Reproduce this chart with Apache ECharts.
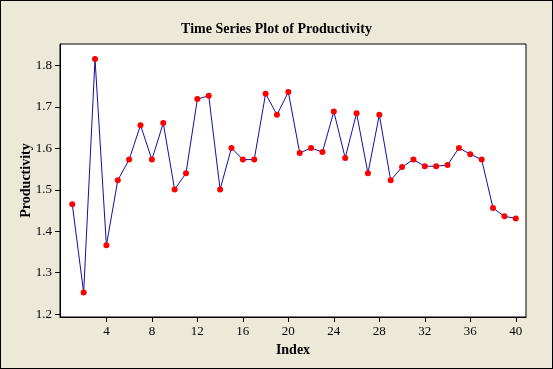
<!DOCTYPE html>
<html>
<head>
<meta charset="utf-8">
<script src="https://cdn.jsdelivr.net/npm/echarts@6/dist/echarts.min.js"></script>
<style>
html,body{margin:0;padding:0;}
#c{width:553px;height:369px;box-sizing:border-box;border:1px solid #000;background:#ece9d8;}
</style>
</head>
<body>
<div id="c"></div>
<script>
const indexValues = [1,2,3,4,5,6,7,8,9,10,11,12,13,14,15,16,17,18,19,20,21,22,23,24,25,26,27,28,29,30,31,32,33,34,35,36,37,38,39,40];
const productivity = [1.465,1.252,1.816,1.366,1.523,1.573,1.656,1.573,1.661,1.501,1.540,1.719,1.727,1.501,1.601,1.573,1.573,1.732,1.681,1.736,1.589,1.601,1.591,1.689,1.577,1.685,1.540,1.681,1.523,1.555,1.573,1.557,1.557,1.560,1.601,1.586,1.573,1.456,1.436,1.431];
const xTicks = [4,8,12,16,20,24,28,32,36,40];
const yTicks = [1.2,1.3,1.4,1.5,1.6,1.7,1.8];

const chart = echarts.init(document.getElementById('c'), null, {renderer:'canvas'});
const font = '"Liberation Serif", "DejaVu Serif", serif';
chart.setOption({
  backgroundColor: 'transparent',
  animation: false,
  title: {
    text: 'Time Series Plot of Productivity',
    left: 'center', top: 16,
    textStyle: {fontFamily: font, fontSize: 14, fontWeight: 'bold', color: '#000'}
  },
  grid: {
    left: 59, top: 43, right: 26, bottom: 51,
    show: true, backgroundColor: '#fff', borderColor: '#000', borderWidth: 1
  },
  xAxis: {
    type: 'value', min: -0.08, max: 40.9,
    name: 'Index', nameLocation: 'middle', nameGap: 26, nameMoveOverlap: false,
    nameTextStyle: {fontFamily: font, fontSize: 14, fontWeight: 'bold', color: '#000'},
    splitLine: {show: false},
    axisLine: {show: true, onZero: false, lineStyle: {color: '#000', width: 1}},
    axisTick: {show: true, length: 5, customValues: xTicks, lineStyle: {color: '#000'}},
    axisLabel: {customValues: xTicks, margin: 8, fontFamily: font, fontSize: 13, color: '#000'}
  },
  yAxis: {
    type: 'value', min: 1.193, max: 1.852,
    name: 'Productivity', nameLocation: 'middle', nameGap: 27, nameMoveOverlap: false,
    nameTextStyle: {fontFamily: font, fontSize: 14, fontWeight: 'bold', color: '#000'},
    splitLine: {show: false},
    axisLine: {show: true, onZero: false, lineStyle: {color: '#000', width: 1}},
    axisTick: {show: true, length: 5, customValues: yTicks, lineStyle: {color: '#000'}},
    axisLabel: {customValues: yTicks, margin: 8, fontFamily: font, fontSize: 13, color: '#000',
      formatter: v => Number(v).toFixed(1)}
  },
  series: [{
    type: 'line',
    data: indexValues.map((x, i) => [x, productivity[i]]),
    symbol: 'circle', symbolSize: 6,
    itemStyle: {color: '#ff0000', borderWidth: 0},
    lineStyle: {color: '#1010a0', width: 1}
  }]
});
</script>
</body>
</html>
